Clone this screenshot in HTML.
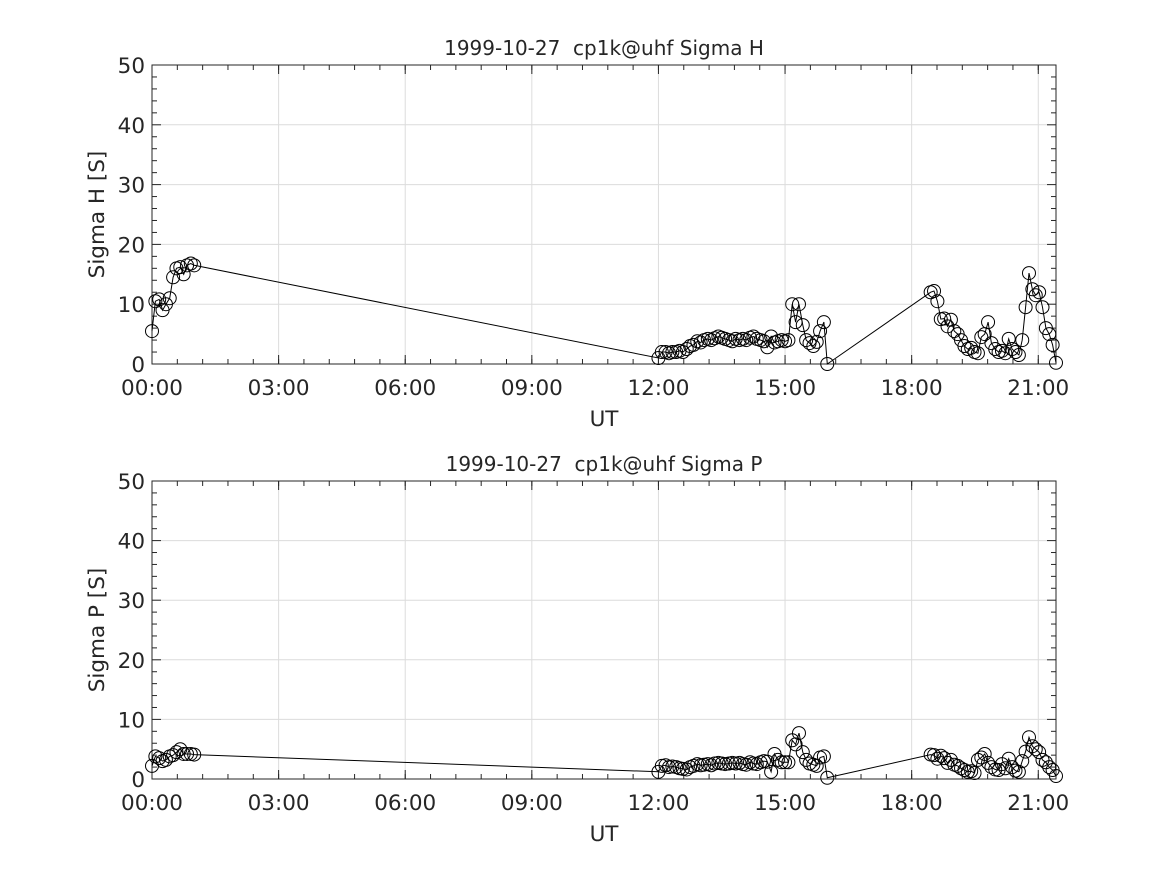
<!DOCTYPE html>
<html><head><meta charset="utf-8"><style>
body{margin:0;background:#fff;}
svg text{font-family:"DejaVu Sans","Liberation Sans",sans-serif;fill:#262626;}
</style></head><body>
<svg id="fig" width="1167" height="875" xmlns="http://www.w3.org/2000/svg"></svg>
<script>
const xTickLabels=["00:00","03:00","06:00","09:00","12:00","15:00","18:00","21:00"];
const yTickLabels=["0","10","20","30","40","50"];
const hTimes=[0,0.08,0.17,0.25,0.33,0.42,0.5,0.58,0.67,0.75,0.83,0.92,1.0,
12.0,12.08,12.17,12.25,12.33,12.42,12.5,12.58,12.67,12.75,12.83,12.92,13.0,13.08,13.17,13.25,13.33,13.42,13.5,13.58,13.67,13.75,13.83,13.92,14.0,14.08,14.17,14.25,14.33,14.42,14.5,14.58,14.67,14.75,14.83,14.92,15.0,15.08,15.17,15.25,15.33,15.42,15.5,15.58,15.67,15.75,15.83,15.92,16.0,
18.45,18.53,18.61,18.69,18.77,18.85,18.93,19.01,19.09,19.17,19.25,19.33,19.41,19.49,19.57,19.65,19.73,19.81,19.89,19.98,20.06,20.14,20.22,20.30,20.38,20.46,20.54,20.62,20.70,20.78,20.86,20.94,21.02,21.10,21.18,21.26,21.34,21.42];
const sigmaH=[5.5,10.5,10.8,9,10,11,14.5,16,16.2,15,16.5,16.8,16.5,
1.0,2,2,1.8,2,2,2.2,2,2.5,3,3.2,3.8,3.6,4,4.2,4,4.3,4.6,4.4,4.2,4,3.8,4.2,4,4.2,4,4.4,4.6,4.2,4,3.8,2.8,4.6,3.6,3.8,4,3.8,4,10,7,10,6.5,4,3.5,3,3.7,5.5,7,0,
12,12.2,10.5,7.5,7.6,6.3,7.4,5.5,5,4,3,2.5,2.7,2,1.8,4.5,5,7,3.5,2.5,2,2.2,1.8,4.2,2.5,2,1.5,4,9.5,15.2,12.5,11.5,12,9.5,6,5,3.2,0.2];
const sigmaP=[2.2,3.8,3.5,3,3.2,3.8,4,4.5,5,4.2,4.2,4.2,4.1,
1.2,2.2,2.3,2,2.1,2,1.8,1.7,1.6,2,2.2,2.5,2.3,2.4,2.5,2.3,2.6,2.7,2.6,2.5,2.6,2.7,2.6,2.7,2.5,2.4,2.8,2.6,2.5,2.8,3,2.9,1.2,4.2,3.2,2.8,2.8,2.8,6.5,5.8,7.7,4.5,3.2,2.6,2.4,2.2,3.6,3.8,0.2,
4.1,4,3.4,3.9,3.5,2.7,3.2,2.4,2.2,1.8,1.5,1.2,1.3,1,3.2,3.6,4.2,2.7,2,1.6,1.5,2.5,1.8,3.4,2,1.4,1.2,3,4.6,7,5.5,5,4.5,3.2,2.8,2,1.5,0.5];
const NS="http://www.w3.org/2000/svg";
const svg=document.getElementById('fig');
function mk(tag,attrs,parent){const e=document.createElementNS(NS,tag);for(const k in attrs)e.setAttribute(k,attrs[k]);(parent||svg).appendChild(e);return e;}
const X0=152,X1=1056,XMAX=21.42;
function drawPanel(top,bottom,title,ylab,times,vals,name){
  const g=mk('g',{});
  
  
  const xs=h=>X0+h/XMAX*(X1-X0);
  const ys=v=>bottom-v/50*(bottom-top);
  for(let i=0;i<xTickLabels.length;i++){const x=xs(i*3);mk('line',{x1:x,x2:x,y1:top,y2:bottom,stroke:'#dcdcdc','stroke-width':1},g);}
  for(let i=0;i<yTickLabels.length;i++){const y=ys(i*10);mk('line',{x1:X0,x2:X1,y1:y,y2:y,stroke:'#dcdcdc','stroke-width':1},g);}
  mk('line',{x1:X0,x2:X1,y1:bottom,y2:bottom,stroke:'#aaa','stroke-dasharray':'8,5'},g);
  for(let h=0;h<=XMAX+0.001;h+=0.6){const x=xs(h);mk('line',{x1:x,x2:x,y1:bottom,y2:bottom-5,stroke:'#262626'},g);mk('line',{x1:x,x2:x,y1:top,y2:top+5,stroke:'#262626'},g);}
  for(let i=0;i<xTickLabels.length;i++){const x=xs(i*3);mk('line',{x1:x,x2:x,y1:bottom,y2:bottom-9,stroke:'#262626'},g);mk('line',{x1:x,x2:x,y1:top,y2:top+9,stroke:'#262626'},g);
    const t=mk('text',{x:x,y:bottom+31,'text-anchor':'middle','font-size':21.5},g);t.textContent=xTickLabels[i];
    
    }
  for(let v=0;v<=50;v+=2){const y=ys(v);const L=(v%10===0)?9:5;mk('line',{x1:X0,x2:X0+L,y1:y,y2:y,stroke:'#262626'},g);mk('line',{x1:X1,x2:X1-L,y1:y,y2:y,stroke:'#262626'},g);}
  for(let i=0;i<yTickLabels.length;i++){const t=mk('text',{x:X0-7,y:ys(i*10)+8,'text-anchor':'end','font-size':21.5},g);t.textContent=yTickLabels[i];
    
    }
  mk('rect',{x:X0,y:top,width:X1-X0,height:bottom-top,fill:'none',stroke:'#262626','stroke-width':1},g);
  let d='';for(let i=0;i<times.length;i++){d+=(i?'L':'M')+xs(times[i]).toFixed(1)+','+ys(vals[i]).toFixed(1);}
  const p=mk('path',{d:d,fill:'none',stroke:'#000','stroke-width':1},g);
  
  
  for(let i=0;i<times.length;i++){const c=mk('circle',{cx:xs(times[i]),cy:ys(vals[i]),r:6.5,fill:'none',stroke:'#000','stroke-width':1},g);
    
    }
  const tt=mk('text',{x:(X0+X1)/2,y:top-10,'text-anchor':'middle','font-size':20,fill:'#000'},g);tt.textContent=title;
  
  
  const xl=mk('text',{x:(X0+X1)/2,y:bottom+62,'text-anchor':'middle','font-size':21.5},g);xl.textContent='UT';
  
  
  const yl=mk('text',{x:0,y:0,'text-anchor':'middle','font-size':21.5,transform:`translate(104,${(top+bottom)/2}) rotate(-90)`},g);yl.textContent=ylab;
  
  
}
drawPanel(65,364,'1999-10-27\u00a0\u00a0cp1k@uhf Sigma H','Sigma H [S]',hTimes,sigmaH,'sigma-h');
drawPanel(481,779,'1999-10-27\u00a0\u00a0cp1k@uhf Sigma P','Sigma P [S]',hTimes,sigmaP,'sigma-p');
</script>
</body></html>
